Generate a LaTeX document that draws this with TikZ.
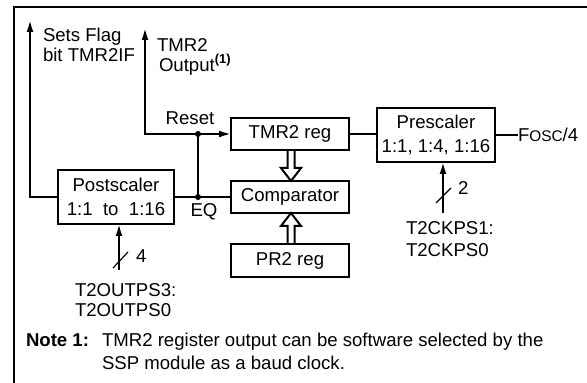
\documentclass[tikz,border=0pt]{standalone}
\usepackage{fontspec}
\setmainfont{Liberation Sans}
\usetikzlibrary{arrows.meta,calc}
\begin{document}
\begin{tikzpicture}[x=0.5pt,y=-0.5pt, line width=1pt,
  every node/.style={font=\fontsize{9.3}{11}\selectfont, inner sep=0pt, outer sep=0pt},
  blk/.style={draw, rectangle, minimum width=59pt, align=center},
  two/.style={font=\fontsize{9.3}{12}\selectfont},
  tip/.style={-{Latex[length=6pt,width=3.5pt]}},
  dot/.style={circle, fill, minimum size=3pt},
  hollow/.style={draw, line join=miter},
  slash/.style={line width=0.6pt},
  txt/.style={anchor=base west}]
\useasboundingbox (0,0) rectangle (587,383);
% frame
\draw (587,7) -- (14,7) -- (14,383);
% blocks
\node[blk, minimum height=16pt] (tmr) at (290,134) {TMR2 reg};
\node[blk, minimum height=16pt] (cmp) at (290,197) {Comparator};
\node[blk, minimum height=16.5pt] (pr2) at (290,260.5) {PR2 reg};
\node[blk, two, minimum height=27pt] (pre) at (436,135) {Prescaler\\1:1, 1:4, 1:16};
\node[blk, two, minimum width=58pt, minimum height=27pt] (post) at (116,197) {Postscaler\\1:1\ \ to\ \ 1:16};
% hollow arrows
\draw[hollow] ($(tmr.south)+(-2.5,0)$) -- ($(cmp.north)+(-2.5,-13)$) -- ($(cmp.north)+(-9,-13)$) -- ($(cmp.north)+(1,0)$) -- ($(cmp.north)+(11,-13)$) -- ($(cmp.north)+(4.5,-13)$) -- ($(tmr.south)+(4.5,0)$);
\draw[hollow] ($(pr2.north)+(-2.5,0)$) -- ($(cmp.south)+(-2.5,13)$) -- ($(cmp.south)+(-9,13)$) -- ($(cmp.south)+(1,0)$) -- ($(cmp.south)+(11,13)$) -- ($(cmp.south)+(4.5,13)$) -- ($(pr2.north)+(4.5,0)$);
% coordinates
\coordinate (flag) at (30,20);
\coordinate (out) at (145,28);
\coordinate (rdot) at (198,134);
\coordinate (eqdot) at (198,197);
\coordinate (psin) at (119,270);
\coordinate (prin) at (443,213);
% connectors
\draw[tip] (post.west) -| (flag);
\draw[tip] (rdot) -- (tmr.west);
\draw[tip] (rdot) -| (out);
\draw (rdot) -- (eqdot);
\draw (post.east) -- (cmp.west);
\node[dot] (rd) at (rdot) {};
\node[dot] (ed) at (eqdot) {};
\draw (tmr.east) -- (pre.west |- tmr.east);
\node[anchor=west] (fosc) at (518,135) {F{\fontsize{7.7}{8}\selectfont OSC}/4};
\draw (pre.east) -- (fosc.west);
\draw[tip] (psin) -- (psin |- post.south);
\draw[tip] (prin) -- (prin |- pre.south);
\draw[slash] ($(psin)+(-6,-2)$) -- ($(psin)+(9,-18)$);
\draw[slash] ($(prin)+(-7,-10)$) -- ($(prin)+(8,-25)$);
% labels
\node[txt] (sf1) at (43,42) {Sets Flag};
\node[txt] (sf2) at (43,62) {bit TMR2IF};
\node[anchor=north west, align=left, font=\fontsize{9.3}{8}\selectfont] (tout) at (157,39) {TMR2\\[0pt]\hspace{1pt}Output\textsuperscript{\textbf{(1)}}};
\node[anchor=base] (rst) at (190,125) {Reset};
\node[anchor=base] (eq) at (204,217) {EQ};
\node[txt] (n4) at (136,263) {4};
\node[txt] (n2) at (458,195) {2};
\node[txt] (ps1) at (75,297) {T2OUTPS3:};
\node[txt] (ps2) at (75,317) {T2OUTPS0};
\node[txt] (ck1) at (406,235) {T2CKPS1:};
\node[txt] (ck2) at (406,257) {T2CKPS0};
\node[txt] (note) at (26,347) {\textbf{Note 1:}};
\node[txt] (nt1) at (102,347) {TMR2 register output can be software selected by the};
\node[txt] (nt2) at (102,370) {SSP module as a baud clock.};
\end{tikzpicture}
\end{document}
